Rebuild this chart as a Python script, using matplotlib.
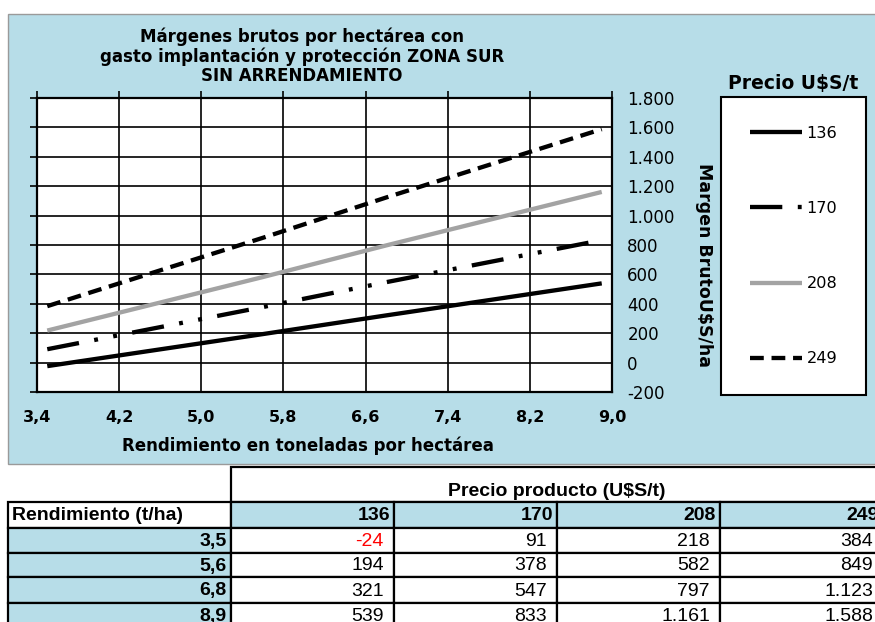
import matplotlib
matplotlib.use("Agg")
import matplotlib.pyplot as plt
from matplotlib.patches import Rectangle

# data
rendimiento = [3.5, 5.6, 6.8, 8.9]
precios = [136, 170, 208, 249]
margen_136 = [-24, 194, 321, 539]
margen_170 = [91, 378, 547, 833]
margen_208 = [218, 582, 797, 1161]
margen_249 = [384, 849, 1123, 1588]

x_ticks = [3.4, 4.2, 5.0, 5.8, 6.6, 7.4, 8.2, 9.0]
y_ticks = [-200, 0, 200, 400, 600, 800, 1000, 1200, 1400, 1600, 1800]

blue = "#B7DDE8"
W, H = 875, 622


def fmt_miles(v):
    return f"{v:,.0f}".replace(",", ".")


fig = plt.figure(figsize=(W / 100, H / 100), dpi=100)
fig.patch.set_facecolor("white")

# background layer in pixel coordinates (chart area + table)
bg = fig.add_axes([0, 0, 1, 1], zorder=0)
bg.set_xlim(0, W)
bg.set_ylim(H, 0)
bg.axis("off")
bg.add_patch(Rectangle((8, 14), 880, 450, facecolor=blue, edgecolor="#9a9a9a", lw=1))

# main chart
ax = fig.add_axes([37 / W, 1 - 392 / H, (612 - 37) / W, (392 - 98) / H], zorder=2)
ax.set_facecolor("white")

series = [margen_136, margen_170, margen_208, margen_249]
styles = [
    dict(color="black", ls="-"),
    dict(color="black", dashes=(7.5, 3.6, 0.9, 3.6, 0.9, 3.6)),
    dict(color="#a3a3a3", ls="-"),
    dict(color="black", dashes=(3.2, 1.8)),
]
for p, vals, st in zip(precios, series, styles):
    ax.plot(rendimiento, vals, lw=3.1, solid_capstyle="butt", dash_capstyle="butt",
            label=str(p), zorder=3, **st)

ax.set_xlim(x_ticks[0], x_ticks[-1])
ax.set_ylim(y_ticks[0], y_ticks[-1])
ax.set_xticks(x_ticks, [f"{v:.1f}".replace(".", ",") for v in x_ticks],
              fontweight="bold", fontsize=11.5)
ax.set_yticks(y_ticks, [fmt_miles(v) for v in y_ticks], fontsize=12)
for lab, v in zip(ax.get_yticklabels(), y_ticks):
    if v < 0:
        lab.set_color("red")
ax.grid(True, color="black", lw=1.2)
for s in ax.spines.values():
    s.set_linewidth(1.6)
ax.tick_params(axis="y", left=True, right=False, labelleft=False, labelright=True,
               direction="out", length=5, width=1.2, pad=6)
ax.tick_params(axis="x", top=True, bottom=False, labeltop=False, labelbottom=True,
               direction="out", length=5, width=1.2, pad=8)

fig.text(302 / W, 1 - 56 / H,
         "Márgenes brutos por hectárea con\ngasto implantación y protección ZONA SUR\nSIN ARRENDAMIENTO",
         ha="center", va="center", fontweight="bold", fontsize=12, linespacing=1.1)
fig.text(308 / W, 1 - 446 / H, "Rendimiento en toneladas por hectárea",
         ha="center", va="center", fontweight="bold", fontsize=12)
fig.text(704 / W, 1 - 265 / H, "Margen BrutoU$S/ha", rotation=-90,
         ha="center", va="center", fontweight="bold", fontsize=12.5)

# legend
fig.text(793 / W, 1 - 83 / H, "Precio U$S/t", ha="center", va="center",
         fontweight="bold", fontsize=13.5)
leg = ax.legend(loc="upper left", bbox_to_anchor=(721 / W, 1 - 97 / H),
                bbox_transform=fig.transFigure, fontsize=11.6, frameon=True,
                fancybox=False, edgecolor="black", facecolor="white", framealpha=1,
                handlelength=3.25, handletextpad=0.25, labelspacing=3.73,
                borderpad=1.8, borderaxespad=0)
leg.get_frame().set_linewidth(1.5)
leg.set_zorder(5)

# table under the chart
col_x = [8, 231, 394, 557, 720, 883]
row_y = [467, 502, 528, 553, 577, 603, 628]
tfont = dict(family="Liberation Sans", fontsize=14)
lw = 1.6

bg.add_patch(Rectangle((col_x[1], row_y[0]), col_x[-1] - col_x[1], row_y[1] - row_y[0],
                       facecolor="white", edgecolor="black", lw=lw))
bg.text((col_x[1] + col_x[-1]) / 2, 496, "Precio producto (U$S/t)",
        ha="center", va="baseline", fontweight="bold", **tfont)

# header row
bg.add_patch(Rectangle((col_x[0], row_y[1]), col_x[1] - col_x[0], row_y[2] - row_y[1],
                       facecolor="white", edgecolor="black", lw=lw))
bg.text(col_x[0] + 4, (row_y[1] + row_y[2]) / 2 + 1, "Rendimiento (t/ha)",
        ha="left", va="center", fontweight="bold", **tfont)
for j, p in enumerate(precios):
    x0, x1 = col_x[j + 1], col_x[j + 2]
    bg.add_patch(Rectangle((x0, row_y[1]), x1 - x0, row_y[2] - row_y[1],
                           facecolor=blue, edgecolor="black", lw=lw))
    bg.text(x1 - 4, (row_y[1] + row_y[2]) / 2 + 1, str(p),
            ha="right", va="center", fontweight="bold", **tfont)

# data rows
for i, r in enumerate(rendimiento):
    y0, y1 = row_y[i + 2], row_y[i + 3]
    yc = (y0 + y1) / 2 + 1
    bg.add_patch(Rectangle((col_x[0], y0), col_x[1] - col_x[0], y1 - y0,
                           facecolor=blue, edgecolor="black", lw=lw))
    bg.text(col_x[1] - 4, yc, f"{r:.1f}".replace(".", ","),
            ha="right", va="center", fontweight="bold", **tfont)
    for j, vals in enumerate(series):
        x0, x1 = col_x[j + 1], col_x[j + 2]
        bg.add_patch(Rectangle((x0, y0), x1 - x0, y1 - y0,
                               facecolor="white", edgecolor="black", lw=lw))
        v = vals[i]
        bg.text(x1 - 10, yc, fmt_miles(v), ha="right", va="center",
                color="red" if v < 0 else "black", **tfont)

fig.savefig("out.png", dpi=100)
